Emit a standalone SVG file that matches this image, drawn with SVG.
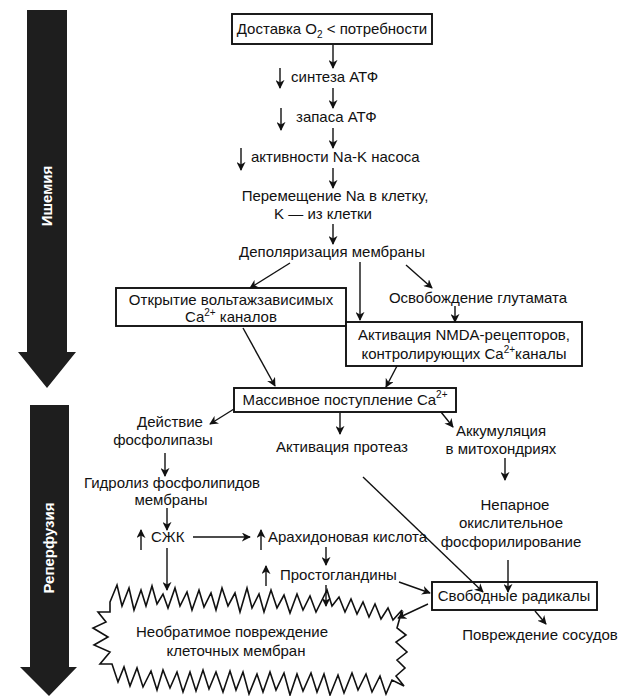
<svg xmlns="http://www.w3.org/2000/svg" width="630" height="696" viewBox="0 0 630 696">
<defs>
<marker id="ah" viewBox="0 0 10 10" refX="9" refY="5" markerWidth="9" markerHeight="9" markerUnits="userSpaceOnUse" orient="auto">
<path d="M0,0 L10,5 L0,10 L3,5 Z" fill="#111"/>
</marker>
</defs>
<style>
text{font-family:"Liberation Sans",Arial,sans-serif;font-size:15px;fill:#111}
.c{text-anchor:middle}
.box{fill:#fff;stroke:#111;stroke-width:1.9}
.ln{fill:none;stroke:#111;stroke-width:1.4;marker-end:url(#ah)}
.sup{font-size:10px}
.band{fill:#1e1e1e}
.bt{fill:#fff;font-weight:bold;font-size:15px;text-anchor:middle}
</style>
<rect width="630" height="696" fill="#fff"/>

<g id="phase-ischemia">
<polygon class="band" points="27,10 67,10 67,352 76,352 47,388 18,352 27,352"/>
<text class="bt" transform="translate(52,196) rotate(-90)">Ишемия</text>
</g>
<g id="phase-reperfusion">
<polygon class="band" points="30,405 69,405 69,667 77,667 49,696 20,667 30,667"/>
<text class="bt" transform="translate(54,548) rotate(-90)">Реперфузия</text>
</g>

<g id="n-delivery">
<rect class="box" x="232" y="14" width="200" height="30"/>
<text class="c" x="332" y="34">Доставка O<tspan class="sup" dy="4">2</tspan><tspan dy="-4"> &lt; потребности</tspan></text>
</g>
<g id="n-synth">
<text x="291" y="82">синтеза АТФ</text>
<path class="ln" d="M280,68 V88"/>
</g>
<g id="n-store">
<text x="296" y="122">запаса АТФ</text>
<path class="ln" d="M281,108 V130"/>
</g>
<g id="n-pump">
<text x="251" y="162">активности Na-K насоса</text>
<path class="ln" d="M241,148 V170"/>
</g>
<g id="n-move">
<text class="c" x="335" y="201">Перемещение Na в клетку,</text>
<text class="c" x="323" y="219">K —  из клетки</text>
</g>
<g id="n-depol">
<text class="c" x="332" y="257">Деполяризация мембраны</text>
</g>
<g id="n-open">
<rect class="box" x="116" y="288" width="230" height="38"/>
<text class="c" x="231" y="305">Открытие вольтажзависимых</text>
<text class="c" x="231" y="322">Ca<tspan class="sup" dy="-6">2+</tspan><tspan dy="6"> каналов</tspan></text>
</g>
<g id="n-glut">
<text class="c" x="478" y="303">Освобождение глутамата</text>
</g>
<g id="n-nmda">
<rect class="box" x="346" y="322" width="236" height="44"/>
<text class="c" x="464" y="340">Активация NMDA-рецепторов,</text>
<text class="c" x="464" y="359">контролирующих Ca<tspan class="sup" dy="-6">2+</tspan><tspan dy="6">каналы</tspan></text>
</g>
<g id="n-ca">
<rect class="box" x="234" y="388" width="222" height="24"/>
<text class="c" x="345" y="405">Массивное поступление Ca<tspan class="sup" dy="-7">2+</tspan></text>
</g>
<g id="n-phospholipase">
<text class="c" x="170" y="427">Действие</text>
<text class="c" x="163" y="445">фосфолипазы</text>
</g>
<g id="n-protease">
<text class="c" x="342" y="452">Активация протеаз</text>
</g>
<g id="n-mito">
<text class="c" x="501" y="436">Аккумуляция</text>
<text class="c" x="501" y="454">в митохондриях</text>
</g>
<g id="n-hydrolysis">
<text class="c" x="172" y="488">Гидролиз фосфолипидов</text>
<text class="c" x="171" y="505">мембраны</text>
</g>
<g id="n-uncoupled">
<text class="c" x="515" y="510">Непарное</text>
<text class="c" x="511" y="528">окислительное</text>
<text class="c" x="511" y="547">фосфорилирование</text>
</g>
<g id="n-ffa">
<path class="ln" d="M141,550 V530"/>
<text x="151" y="542">СЖК</text>
</g>
<g id="n-arach">
<path class="ln" d="M261,550 V530"/>
<text x="268" y="542">Арахидоновая кислота</text>
</g>
<g id="n-pg">
<path class="ln" d="M266,586 V566"/>
<text x="280" y="580">Простогландины</text>
</g>
<g id="n-radicals">
<rect class="box" x="432" y="582" width="165" height="28"/>
<text class="c" x="514" y="601">Свободные радикалы</text>
</g>
<g id="n-vessels">
<text class="c" x="540" y="640">Повреждение сосудов</text>
</g>
<g id="n-damage">
<polygon fill="#fff" stroke="#111" stroke-width="1.6" stroke-linejoin="miter" points="110,602 117,585 122,606 129,588 134,610 141,590 146,606 152,586 157,604 163,594 168,608 175,588 180,606 187,592 192,610 199,590 204,607 211,593 216,610 222,588 228,606 235,593 240,612 247,588 252,608 259,594 264,612 271,590 277,608 284,595 290,613 297,594 303,610 310,596 316,612 323,598 327,590 332,606 339,597 345,612 351,599 357,614 363,602 369,617 375,604 381,619 388,608 393,620 402,610 397,628 406,635 396,642 407,652 397,660 405,668 396,676 404,686 392,680 386,694 380,676 372,692 366,674 358,690 352,673 344,693 338,675 330,695 324,674 317,692 311,673 303,691 297,674 290,695 284,673 276,690 270,672 263,692 257,674 249,694 243,672 236,690 230,671 223,692 216,672 209,689 203,670 196,691 190,672 183,692 177,672 170,688 163,670 157,690 151,671 143,687 137,668 130,686 124,667 118,682 112,664 100,664 110,652 94,645 108,637 93,628 106,622 98,612 110,612"/>
<text class="c" x="232" y="637">Необратимое повреждение</text>
<text class="c" x="236" y="656">клеточных мембран</text>
</g>

<g id="connectors">
<path class="ln" d="M333,45 V68"/>
<path class="ln" d="M333,88 V108"/>
<path class="ln" d="M333,128 V148"/>
<path class="ln" d="M333,168 V188"/>
<path class="ln" d="M333,224 V244"/>
<path class="ln" d="M290,263 L250,288"/>
<path class="ln" d="M360,262 V320"/>
<path class="ln" d="M406,265 L432,288"/>
<path class="ln" d="M455,306 V322"/>
<path class="ln" d="M243,328 L275,386"/>
<path class="ln" d="M397,366 L386,387"/>
<path class="ln" d="M234,409 L210,424"/>
<path class="ln" d="M340,413 V434"/>
<path class="ln" d="M441,412 L453,427"/>
<path class="ln" d="M165,453 V476"/>
<path class="ln" d="M505,458 V480"/>
<path class="ln" d="M167,508 V530"/>
<path class="ln" d="M193,537 H250"/>
<path class="ln" d="M326,547 V565"/>
<path class="ln" d="M167,548 V590"/>
<path class="ln" d="M326,585 V606"/>
<path class="ln" d="M363,477 L483,592"/>
<path class="ln" d="M508,560 V592"/>
<path class="ln" d="M399,582 L430,593"/>
<path class="ln" d="M428,604 L398,618"/>
<path class="ln" d="M535,611 L546,624"/>
</g>
</svg>
